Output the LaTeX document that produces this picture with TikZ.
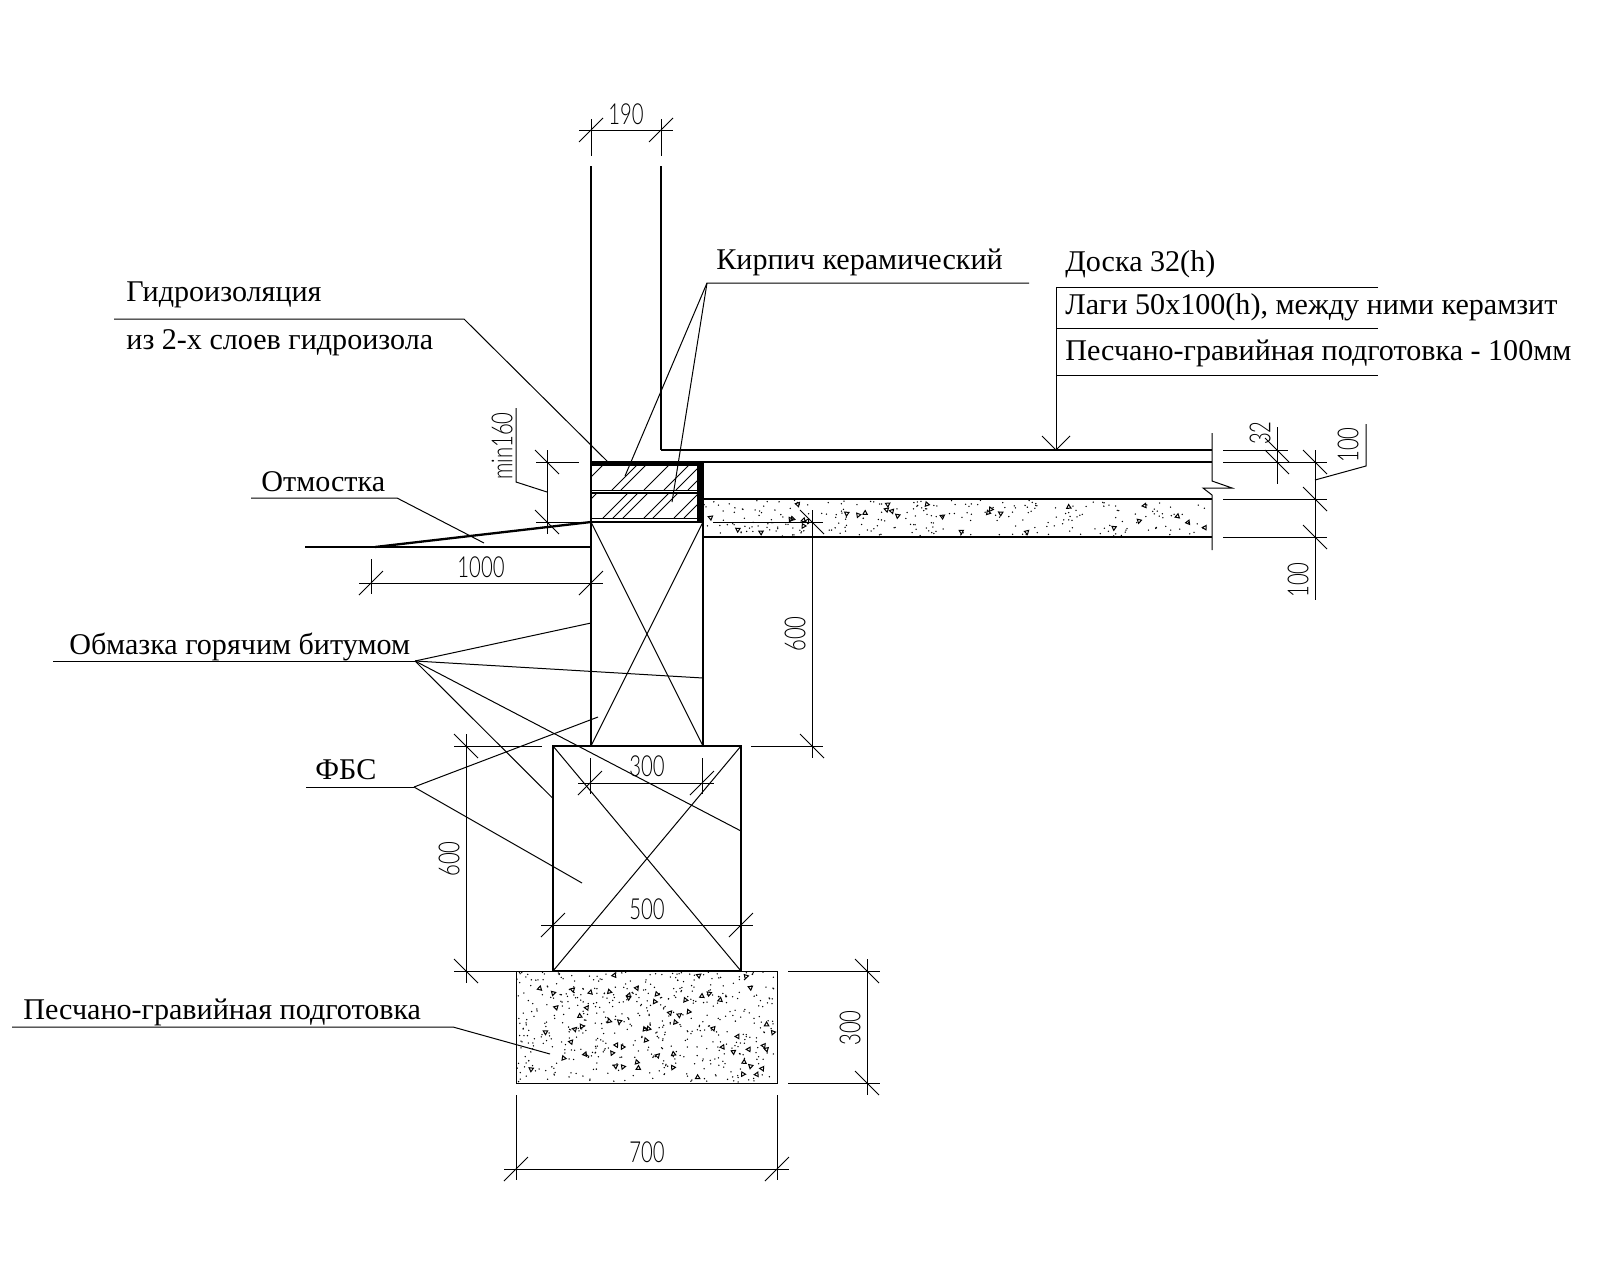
\documentclass[tikz,border=0pt]{standalone}
\usepackage{fontspec}
\setmainfont{Liberation Serif}
\newfontfamily\dimfont[FakeStretch=0.7]{Lato Light}

\newcommand{\tickh}[1]{\draw[dimline, shift={(#1)}] (-12,12) -- (12,-12);}
\newcommand{\tickv}[1]{\draw[dimline, shift={(#1)}] (-12,-12) -- (12,12);}
\newcommand{\dimh}[2]{\draw[dimline, shorten <=-6pt, shorten >=-6pt] (#1) -- (#2); \tickh{#1} \tickh{#2}}
\newcommand{\dimv}[2]{\draw[dimline, shorten <=-6pt, shorten >=-6pt] (#1) -- (#2); \tickv{#1} \tickv{#2}}
\newcommand{\gravel}[7]{
  \pgfmathsetseed{#7}
  \fill[white] (#1,#2) rectangle ++(#3,#4);
  \foreach \n in {1,...,#5}{
    \pgfmathsetmacro\px{#1+1+rnd*(#3-2)}
    \pgfmathsetmacro\py{#2+1+rnd*(#4-2)}
    \fill (\px,\py) circle[radius=0.38pt];
  }
  \foreach \n in {1,...,#6}{
    \pgfmathsetmacro\px{#1+4+rnd*(#3-8)}
    \pgfmathsetmacro\py{#2+4+rnd*(#4-8)}
    \pgfmathsetmacro\pa{rnd*360}
    \draw[line width=0.5pt, shift={(\px,\py)}, rotate=\pa] (0,-2.2) -- (2.2,1.6) -- (-2.2,1.6) -- cycle;
  }
}

\begin{document}
\begin{tikzpicture}[
      x=0.5pt, y=-0.5pt,
      wall/.style={line width=1.15pt},
      thinline/.style={line width=0.5pt},
      leader/.style={line width=0.5pt},
      dimline/.style={line width=0.5pt},
      caption/.style={anchor=base west, inner sep=0pt, font=\fontsize{15.05}{17}\selectfont},
      dimtext/.style={inner sep=0pt, font=\dimfont\fontsize{14.5}{16}\selectfont}
    ]
    \useasboundingbox (0,0) rectangle (1600,1280);

    % gravel beds
    \gravel{703}{499}{509}{38}{260}{30}{7}
    \gravel{516}{971}{261}{112}{520}{62}{11}
    \draw[thinline] (516,971) rectangle (777,1083);
    \draw[wall] (703,499) -- (1212,499);
    \draw[wall] (703,537) -- (1212,537);

    % wall and floor
    \draw[wall] (591,166) -- (591,746);
    \draw[wall] (661,166) -- (661,450);
    \draw[wall] (703,463) -- (703,746);
    \draw[wall] (661,450) -- (1212,450);
    \draw[wall] (591,462) -- (1212,462);
    \draw[wall] (305,547) -- (591,547);
    \draw[wall] (375,547) -- (591,522);
    \draw[thinline] (1212,433) -- (1212,481) -- (1232,488) -- (1203,488) -- (1212,495) -- (1212,550);

    % brick courses
    \begin{scope}
      \clip (591,466) rectangle (697,490);
      \foreach \xb in {578,612,621,644,664,676,688}
        \draw[thinline] (\xb,490) -- ++(30,-30);
    \end{scope}
    \begin{scope}
      \clip (591,493) rectangle (697,518);
      \foreach \xb in {572,603,613,623,644,653,674,684}
        \draw[thinline] (\xb,518) -- ++(30,-30);
    \end{scope}
    \fill (591,461) rectangle (703,465.5);
    \fill (697,461) rectangle (703,522);
    \draw[thinline] (591,490) -- (697,490);
    \draw[wall] (591,493) -- (697,493);
    \draw[thinline] (591,518) -- (697,518);
    \draw[wall] (591,522) -- (703,522);

    % blocks
    \draw[thinline] (591,522) -- (703,746);
    \draw[thinline] (703,522) -- (591,746);
    \draw[wall] (553,746) rectangle (741,971);
    \draw[thinline] (553,746) -- (741,971);
    \draw[thinline] (741,746) -- (553,971);

    % captions
    \node[caption] (brickText) at (716,269) {Кирпич керамический};
    \node[caption] (boardText) at (1065,271) {Доска 32(h)};
    \node[caption] (joistText) at (1065,314) {Лаги 50x100(h), между ними керамзит};
    \node[caption] (sandText) at (1065,360) {Песчано-гравийная подготовка - 100мм};
    \node[caption] (waterText) at (126,301) {Гидроизоляция};
    \node[caption] (waterTextB) at (126,349) {из 2-х слоев гидроизола};
    \node[caption] (blindText) at (261,491) {Отмостка};
    \node[caption] (bitumenText) at (69,654) {Обмазка горячим битумом};
    \node[caption] (fbsText) at (315,779) {ФБС};
    \node[caption] (bedText) at (23,1019) {Песчано-гравийная подготовка};

    % leaders
    \coordinate (brickKnee) at (707,283);
    \coordinate (brickEnd) at (1029,283);
    \coordinate (brickA) at (625,476);
    \coordinate (brickB) at (672,502);
    \draw[leader] (brickEnd) -- (brickKnee) -- (brickA);
    \draw[leader] (brickKnee) -- (brickB);

    \coordinate (floorKnee) at (1056,287);
    \coordinate (floorTip) at (1056,450);
    \draw[leader] (1378,287) -- (floorKnee) -- (floorTip);
    \draw[leader] (1056,328) -- (1378,328);
    \draw[leader] (1056,375) -- (1378,375);
    \draw[leader] (1042,436) -- (floorTip) -- (1070,436);

    \coordinate (waterKnee) at (464,319);
    \coordinate (waterTip) at (609,463);
    \draw[leader] (114,319) -- (waterKnee) -- (waterTip);

    \coordinate (blindKnee) at (397,498);
    \coordinate (blindTip) at (484,543);
    \draw[leader] (251,498) -- (blindKnee) -- (blindTip);

    \coordinate (bitumenKnee) at (415,661);
    \draw[leader] (53,661) -- (bitumenKnee);
    \foreach \tip in {(591,623),(703,678),(552.5,798),(741,831)}
      \draw[leader] (bitumenKnee) -- \tip;

    \coordinate (fbsKnee) at (414,787);
    \draw[leader] (306,787) -- (fbsKnee);
    \foreach \tip in {(598,717),(582,883)}
      \draw[leader] (fbsKnee) -- \tip;

    \coordinate (bedKnee) at (453,1027);
    \coordinate (bedTip) at (550,1054);
    \draw[leader] (12,1027) -- (bedKnee) -- (bedTip);

    % extension lines
    \foreach \ax/\ay/\bx/\by in {591/119/591/156, 661/119/661/156,
        1223/450/1288/450, 1223/462/1327/462, 1223/499/1327/499, 1223/537/1327/537,
        536/462/579/462, 536/522/591/522, 713/522/823/522, 751/746/823/746,
        454/746/542/746, 454/971/516/971, 788/971/880/971, 788/1083/880/1083,
        516/1095/516/1180, 777/1095/777/1180, 371/559/371/594,
        590/758/590/794, 702/758/702/794}
      \draw[dimline] (\ax,\ay) -- (\bx,\by);

    % dimensions
    \coordinate (top190a) at (591,130);
    \coordinate (top190b) at (661,130);
    \dimh{top190a}{top190b}
    \node[dimtext] (top190) at (626,114) {190};

    \coordinate (blind1000a) at (371,583);
    \coordinate (blind1000b) at (591,583);
    \dimh{blind1000a}{blind1000b}
    \node[dimtext] (blind1000) at (481,567) {1000};

    \coordinate (fbs300a) at (590,783);
    \coordinate (fbs300b) at (702,783);
    \dimh{fbs300a}{fbs300b}
    \node[dimtext] (fbs300) at (647,766) {300};

    \coordinate (fbs500a) at (553,925);
    \coordinate (fbs500b) at (741,925);
    \dimh{fbs500a}{fbs500b}
    \node[dimtext] (fbs500) at (647,909) {500};

    \coordinate (bed700a) at (516,1169);
    \coordinate (bed700b) at (777,1169);
    \dimh{bed700a}{bed700b}
    \node[dimtext] (bed700) at (647,1152) {700};

    \coordinate (bed300a) at (867,971);
    \coordinate (bed300b) at (867,1083);
    \dimv{bed300a}{bed300b}
    \node[dimtext, rotate=90] (bed300) at (850,1028) {300};

    \coordinate (fbs600a) at (466,746);
    \coordinate (fbs600b) at (466,971);
    \dimv{fbs600a}{fbs600b}
    \node[dimtext, rotate=90] (fbs600) at (449,859) {600};

    \coordinate (wall600a) at (812,522);
    \coordinate (wall600b) at (812,746);
    \dimv{wall600a}{wall600b}
    \node[dimtext, rotate=90] (wall600) at (795,634) {600};

    \coordinate (min160a) at (547,462);
    \coordinate (min160b) at (547,522);
    \dimv{min160a}{min160b}
    \draw[leader] (516,408) -- (516,482) -- (547,492);
    \node[dimtext, rotate=90] (min160) at (502,446) {min160};

    \draw[dimline] (1277,427) -- (1277,484);
    \tickv{1277,450} \tickv{1277,462}
    \node[dimtext, rotate=90] (board32) at (1260,433) {32};

    \draw[dimline] (1315,450) -- (1315,600);
    \tickv{1315,462} \tickv{1315,499} \tickv{1315,537}
    \draw[leader] (1315,480) -- (1366,466) -- (1366,424);
    \node[dimtext, rotate=90] (joist100) at (1348,445) {100};
    \node[dimtext, rotate=90] (sand100) at (1298,580) {100};
  \end{tikzpicture}
\end{document}
